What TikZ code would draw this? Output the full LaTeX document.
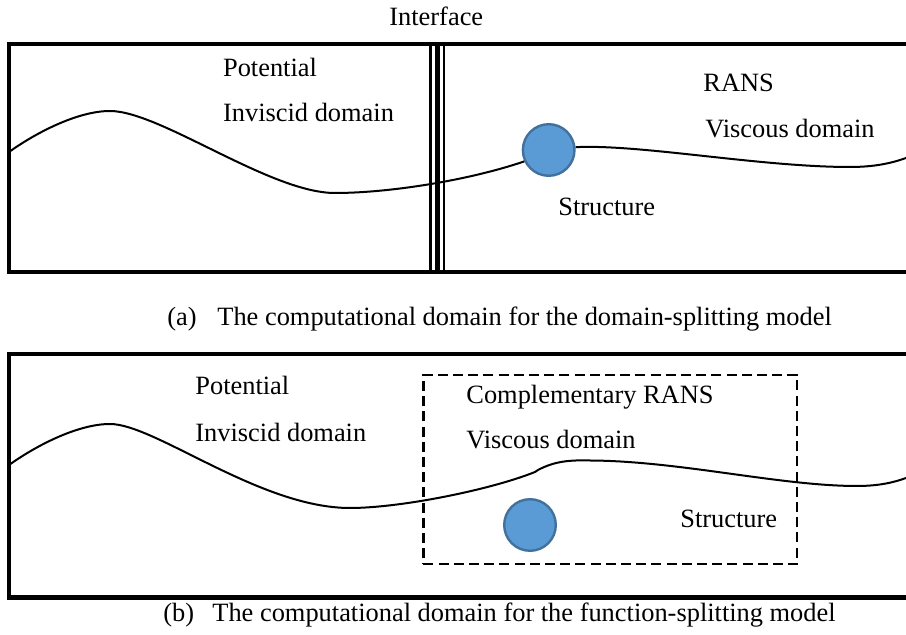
\documentclass[tikz,border=0pt]{standalone}
\usepackage{fontspec}
\setmainfont{Liberation Serif}
\definecolor{ballfill}{HTML}{5B9BD5}
\definecolor{balldraw}{HTML}{41719C}
\begin{document}
\begin{tikzpicture}[x=0.5pt,y=-0.5pt,
  lbl/.style={anchor=base west,inner sep=0pt,font=\fontsize{13.2}{15}\selectfont},
  frame/.style={line width=2.15pt},
  wave/.style={line width=1pt},
  ball/.style={circle,fill=ballfill,draw=balldraw,line width=1.2pt,minimum size=25.8pt,inner sep=0pt},
  dashbox/.style={line width=1.2pt,dash pattern=on 5pt off 2.6pt}
]
\useasboundingbox (0,0) rectangle (906,635);
\clip (0,0) rectangle (906,635);

% ---------- (a) domain-splitting ----------
\draw[frame] (920,44) -- (9,44) -- (9,271.7) -- (920,271.7);
\draw[line width=1.35pt] (430.7,44) -- (430.7,271.7);
\draw[line width=2.8pt] (437.5,44) -- (437.5,271.7);
\draw[line width=1pt] (443.7,44) -- (443.7,271.7);

\node[ball] (s1) at (548.7,150) {};
\coordinate (wa0) at (9,152);
\coordinate (wa9) at (906,158);
\draw[wave] (wa0) .. controls (40,130) and (80,111) .. (110,111)
  .. controls (160,111) and (270,193) .. (335,193)
  .. controls (390,193) and (470,180) .. (s1.205);
\draw[wave] (s1.6) .. controls (640,144) and (760,167) .. (850,167)
  .. controls (875,167) and (892,163) .. (wa9);

\node[lbl] (interface) at (389,26) {Interface};
\node[lbl] (pota) at (222.7,77) {Potential};
\node[lbl] (inva) at (222.7,121.5) {Inviscid domain};
\node[lbl] (rans) at (703,91.5) {RANS};
\node[lbl] (visa) at (705,137.5) {Viscous domain};
\node[lbl] (stra) at (558,216) {Structure};
\node[lbl] (capa) at (167,326) {(a)};
\node[lbl] (capatext) at (217,326) {The computational domain for the domain-splitting model};

% ---------- (b) function-splitting ----------
\draw[frame] (920,354) -- (9,354) -- (9,597.5) -- (920,597.5);
\node[draw,dashbox,inner sep=0pt,minimum width=186.85pt,minimum height=94.5pt] (crans) at (610.15,469.5) {};

\coordinate (wb0) at (9,465);
\coordinate (wbk) at (535,472);
\coordinate (wb9) at (906,478);
\draw[wave] (wb0) .. controls (40,443) and (80,424) .. (110,424)
  .. controls (155,424) and (260,508) .. (350,508)
  .. controls (400,508) and (490,490) .. (wbk)
  -- (538,470)
  .. controls (555,461) and (570,460) .. (590,460.5)
  .. controls (680,461) and (780,486) .. (857,486)
  .. controls (880,486) and (895,482) .. (wb9);
\node[ball] (s2) at (530,525) {};

\node[lbl] (potb) at (195,395) {Potential};
\node[lbl] (invb) at (195,441.5) {Inviscid domain};
\node[lbl] (comp) at (466,404) {Complementary RANS};
\node[lbl] (visb) at (466,449) {Viscous domain};
\node[lbl] (strb) at (680,528) {Structure};
\node[lbl] (capb) at (163,622) {(b)};
\node[lbl] (capbtext) at (212,622) {The computational domain for the function-splitting model};
\end{tikzpicture}
\end{document}
